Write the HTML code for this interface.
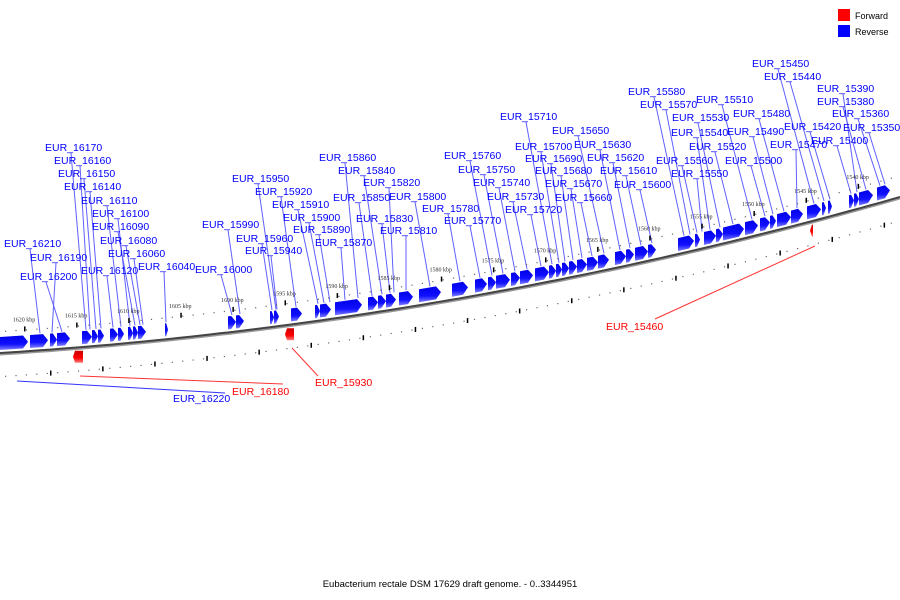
<!DOCTYPE html>
<html><head><meta charset="utf-8"><style>
html,body{margin:0;padding:0;background:#fff;}
svg{display:block;font-family:"Liberation Sans","DejaVu Sans",sans-serif;}
</style></head><body>
<svg id="chart" width="900" height="600" viewBox="0 0 900 600" xmlns="http://www.w3.org/2000/svg">
<defs>
<linearGradient id="bg" x1="0" y1="0" x2="0" y2="1"><stop offset="0" stop-color="#0000e8"/><stop offset="0.6" stop-color="#1010ff"/><stop offset="1" stop-color="#8080ff"/></linearGradient>
<linearGradient id="rg" x1="0" y1="0" x2="0" y2="1"><stop offset="0" stop-color="#cc0000"/><stop offset="0.6" stop-color="#ff0000"/><stop offset="1" stop-color="#ff8080"/></linearGradient>
</defs>
<g id="layer-lines"></g>
<g id="layer-track"></g>
<g id="layer-genes"></g>
<g id="layer-labels"></g>
<g>
<rect x="838" y="9" width="12" height="12" fill="#ff0000"/>
<text x="855" y="19" font-size="9">Forward</text>
<rect x="838" y="25" width="12" height="12" fill="#0000ff"/>
<text x="855" y="35" font-size="9">Reverse</text>
</g>
<text x="450" y="587" font-size="9.5" text-anchor="middle">Eubacterium rectale DSM 17629 draft genome. - 0..3344951</text>
</svg>
<script>
const kbpTicks=[1620,1615,1610,1605,1600,1595,1590,1585,1580,1575,1570,1565,1560,1555,1550,1545,1540];
const blueGenes=[[0,28],[30,48],[50,57],[57,70],[82,92],[92,98],[98,104],[110,118],[118,124],[128,133],[133,138],[138,146],[165,168],[228,236],[236,244],[270,274],[274,279],[291,302],[315,320],[320,331],[335,362],[368,378],[378,386],[386,396],[399,413],[419,441],[452,468],[475,487],[488,496],[496,510],[511,520],[520,533],[535,549],[549,556],[556,562],[562,569],[569,577],[577,587],[587,598],[598,609],[615,626],[626,634],[635,648],[648,656],[678,694],[695,700],[704,716],[716,723],[723,744],[745,758],[760,770],[770,776],[777,791],[791,803],[807,821],[822,826],[828,832],[849,854],[854,859],[859,873],[877,890]];
const redGenes=[[73,83],[285,294],[810,813]];
const labelNames=["16210","16200","16190","16170","16160","16150","16140","16120","16110","16100","16090","16080","16060","16040","16000","15990","15960","15950","15940","15920","15910","15900","15890","15870","15860","15850","15840","15830","15820","15810","15800","15780","15770","15760","15750","15740","15730","15720","15710","15700","15690","15680","15670","15660","15650","15630","15620","15610","15600","15580","15570","15560","15550","15540","15530","15520","15510","15500","15490","15480","15470","15450","15440","15420","15400","15390","15380","15360","15350"];
const labelX=[4,20,30,45,54,58,64,81,81,92,92,100,108,138,195,202,236,232,245,255,272,283,293,315,319,333,338,356,363,380,389,422,444,444,458,473,487,505,500,515,525,535,545,555,552,574,587,600,614,628,640,656,671,671,672,689,696,725,727,733,770,752,764,784,811,817,817,832,843];
const labelY=[243,276,257,147,160,173,186,270,200,213,226,240,253,266,269,224,238,178,250,191,204,217,229,242,157,197,170,218,182,230,196,208,220,155,169,182,196,209,116,146,158,170,183,197,130,144,157,170,184,91,104,160,173,132,117,146,99,160,131,113,144,63,76,126,140,88,101,113,127];
const labelTarget=[40,62,52,86,90,96,101,113,121,130,135,140,143,166,232,240,272,276,277,296,318,324,330,345,358,372,382,390,394,406,430,460,480,492,503,515,527,541,552,559,565,573,582,592,604,620,630,641,652,684,690,697,702,710,720,733,752,765,773,784,797,814,824,830,851,857,866,880,885];
const redLabels=[["EUR_16180",232,391,80,376,283,384,"#ff0000"],["EUR_15930",315,382,292,348,318,376,"#ff0000"],["EUR_15460",606,326,815,246,655,319,"#ff0000"],["EUR_16220",173,398,17,381,225,393,"#0000ff"]];

const NS="http://www.w3.org/2000/svg";
function yL(x){return 353-0.0622*x-0.00012346*x*x;}
function xK(k){return 24+(1620-k)/5*52.1;}
function mk(tag,attrs,parent){const e=document.createElementNS(NS,tag);for(const k in attrs)e.setAttribute(k,attrs[k]);parent.appendChild(e);return e;}
const gT=document.getElementById('layer-track'),gG=document.getElementById('layer-genes'),gL=document.getElementById('layer-lines'),gX=document.getElementById('layer-labels');
// axis line
let pts=[];for(let x=0;x<=900;x+=10)pts.push(x+','+yL(x).toFixed(1));
let pts2=[];for(let x=0;x<=900;x+=10)pts2.push(x+','+(yL(x)+1.5).toFixed(1));
let ax=mk('polyline',{points:pts2.join(' '),fill:'none',stroke:'#999','stroke-width':2},gT);

let ax2=mk('polyline',{points:pts.join(' '),fill:'none',stroke:'#444','stroke-width':2},gT);

// minor dots
for(let x=5;x<900;x+=10.42){
 let d=mk('rect',{x:x,y:yL(x)-22,width:1.2,height:1.2,fill:'#666'},gT);
 
 let d2=mk('rect',{x:x,y:yL(x)+23,width:1.2,height:1.2,fill:'#666'},gT);
 
}
kbpTicks.forEach(k=>{const x=xK(k);
 let t=mk('rect',{x:x,y:yL(x)-25,width:1.5,height:5,fill:'#000'},gT);
 
 let t2=mk('rect',{x:x+26,y:yL(x+26)+21,width:1.5,height:5,fill:'#000'},gT);
 
 let tx=mk('text',{x:x,y:yL(x)-30,'font-size':6,'text-anchor':'middle',fill:'#333','font-family':'Liberation Serif,serif'},gT);
 tx.textContent=k+' kbp';
 
});
// genes
blueGenes.forEach(g=>{const[x1,x2]=g;const h=Math.min(5,(x2-x1)*0.6);const xb=x2-h;
 const p=[[x1,yL(x1)-16],[xb,yL(xb)-16],[x2,yL(x2)-9.5],[xb,yL(xb)-3],[x1,yL(x1)-3]].map(q=>q[0]+','+q[1].toFixed(1)).join(' ');
 let e=mk('polygon',{points:p,fill:'url(#bg)'},gG);
 
});
redGenes.forEach(g=>{const[x1,x2]=g;const y=yL(x1)+3;
 const p=[[x1+2,y],[x2,y],[x2,y+12],[x1+2,y+12],[x1,y+6]].map(q=>q[0]+','+q[1].toFixed(1)).join(' ');
 let e=mk('polygon',{points:p,fill:'url(#rg)'},gG);
 
});
// labels
labelNames.forEach((n,i)=>{const lx=labelX[i],ly=labelY[i],tx=labelTarget[i];
 let l=mk('line',{x1:lx+26,y1:ly+6,x2:tx,y2:yL(tx)-17,stroke:'#6060ff','stroke-width':1},gL);
 
 let t=mk('text',{x:lx,y:ly+4,'font-size':10.5,fill:'#0000ff'},gX);
 t.textContent='EUR_'+n;
 
});
redLabels.forEach(r=>{
 let l=mk('line',{x1:r[3],y1:r[4],x2:r[5],y2:r[6],stroke:r[7],'stroke-width':1,'stroke-opacity':0.8},gL);
 
 let t=mk('text',{x:r[1],y:r[2]+4,'font-size':10.5,fill:r[7]},gX);
 t.textContent=r[0];
 
});
</script>
</body></html>
